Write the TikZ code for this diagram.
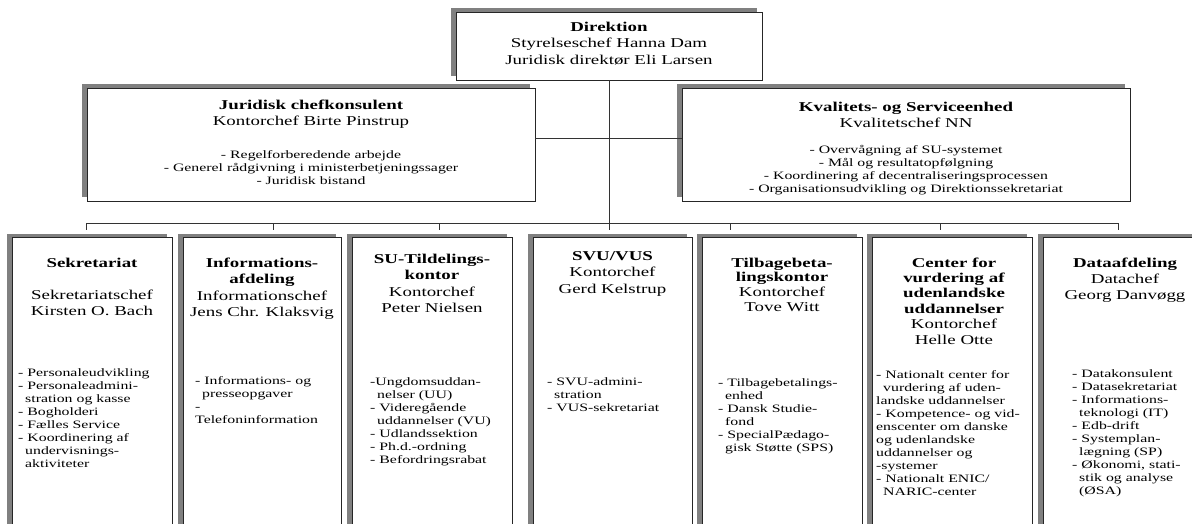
\documentclass[tikz,border=0pt]{standalone}
\usepackage{fontspec}
\setmainfont{Liberation Serif}[FakeStretch=1.4]
\usetikzlibrary{shadows}
\newcommand{\ind}{\hspace*{7pt}}

\begin{document}
\begin{tikzpicture}[x=1pt,y=-1pt,
  box/.style={draw=black!85,line width=0.8pt,fill=white,inner sep=0pt,
    general shadow={fill=black!50,shadow xshift=-5pt,shadow yshift=4pt}},
  big/.style={font=\fontsize{13.5}{16.5}\selectfont,align=center,inner sep=0pt,anchor=north},
  small/.style={font=\fontsize{11.3}{13}\selectfont,align=left,inner sep=0pt,anchor=north west},
  smallc/.style={small,align=center,anchor=north},
  conn/.style={draw=black!80,line width=0.7pt}]
\clip (0,0) rectangle (1192,523);

\node[box,minimum width=306pt,minimum height=68pt](dir) at (609,46) {};
\node[big](dirtxt) at (609,19.5) {\strut\textbf{Direktion}\\Styrelseschef Hanna Dam\\Juridisk direktør Eli Larsen};

\node[box,minimum width=448pt,minimum height=113pt](jur) at (311,144.5) {};
\node[big](jurtxt) at (311,97.5) {\strut\textbf{Juridisk chefkonsulent}\\Kontorchef Birte Pinstrup};
\node[smallc](jurlist) at (311,149.4) {\strut- Regelforberedende arbejde\\- Generel rådgivning i ministerbetjeningssager\\- Juridisk bistand};

\node[box,minimum width=448pt,minimum height=113pt](kval) at (906,144.5) {};
\node[big](kvaltxt) at (906,99.5) {\strut\textbf{Kvalitets- og Serviceenhed}\\Kvalitetschef NN};
\node[smallc](kvallist) at (906,144.4) {\strut- Overvågning af SU-systemet\\- Mål og resultatopfølgning\\- Koordinering af decentraliseringsprocessen\\- Organisationsudvikling og Direktionssekretariat};

%

\node[box,minimum width=160pt,minimum height=303pt](sekr) at (92,389) {};
\node[big](sekrtxt) at (92,255.5) {\strut\textbf{Sekretariat}\\[15.5pt]Sekretariatschef\\Kirsten O. Bach};
\node[small](sekrlist) at (18,367.4) {\strut- Personaleudvikling\\- Personaleadmini-\\\ind stration og kasse\\- Bogholderi\\- Fælles Service\\- Koordinering af\\\ind undervisnings-\\\ind aktiviteter};

\node[box,minimum width=158pt,minimum height=303pt](info) at (262,389) {};
\node[big](infotxt) at (262,255.5) {\strut\textbf{Informations-}\\\textbf{afdeling}\\Informationschef\\Jens Chr. Klaksvig};
\node[small](infolist) at (195,375.4) {\strut- Informations- og\\\ind presseopgaver\\-\\Telefoninformation};

\node[box,minimum width=160pt,minimum height=303pt](sutild) at (432,389) {};
\node[big](sutildtxt) at (432,251.5) {\strut\textbf{SU-Tildelings-}\\\textbf{kontor}\\Kontorchef\\Peter Nielsen};
\node[small](sutildlist) at (370,376.4) {\strut-Ungdomsuddan-\\\ind nelser (UU)\\- Videregående\\\ind uddannelser (VU)\\- Udlandssektion\\- Ph.d.-ordning\\- Befordringsrabat};

\node[box,minimum width=159pt,minimum height=303pt](svu) at (612.5,389) {};
\node[big](svutxt) at (612.5,248.5) {\strut\textbf{SVU/VUS}\\Kontorchef\\Gerd Kelstrup};
\node[small](svulist) at (547,376.4) {\strut- SVU-admini-\\\ind stration\\- VUS-sekretariat};

\node[box,minimum width=160pt,minimum height=303pt](tilbage) at (782,389) {};
\node[big,font=\fontsize{13.5}{14.7}\selectfont](tilbagetxt) at (782,256.7) {\strut\textbf{Tilbagebeta-}\\\textbf{lingskontor}\\Kontorchef\\Tove Witt};
\node[small](tilbagelist) at (718,377.4) {\strut- Tilbagebetalings-\\\ind enhed\\- Dansk Studie-\\\ind fond\\- SpecialPædago-\\\ind gisk Støtte (SPS)};

\node[box,minimum width=160pt,minimum height=303pt](center) at (952,389) {};
\node[big,font=\fontsize{13.5}{15.4}\selectfont](centertxt) at (954,256.2) {\strut\textbf{Center for}\\\textbf{vurdering af}\\\textbf{udenlandske}\\\textbf{uddannelser}\\Kontorchef\\Helle Otte};
\node[small](centerlist) at (876,369.4) {\strut- Nationalt center for\\\ind vurdering af uden-\\landske uddannelser\\- Kompetence- og vid-\\enscenter om danske\\og udenlandske\\uddannelser og\\-systemer\\- Nationalt ENIC/\\\ind NARIC-center};

\node[box,minimum width=160pt,minimum height=303pt](data) at (1123,389) {};
\node[big,font=\fontsize{13.5}{16}\selectfont](datatxt) at (1125,255.8) {\strut\textbf{Dataafdeling}\\Datachef\\Georg Danvøgg};
\node[small](datalist) at (1072,368.4) {\strut- Datakonsulent\\- Datasekretariat\\- Informations-\\\ind teknologi (IT)\\- Edb-drift\\- Systemplan-\\\ind lægning (SP)\\- Økonomi, stati-\\\ind stik og analyse\\\ind (ØSA)};

%

\coordinate (hl) at (609,138);
\coordinate (busl) at (86,223);
\coordinate (busr) at (1118,223);
\path[conn] (jur.east |- hl) -- (kval.west |- hl);
\path[conn] (busl) -- (busr);
\foreach \tx [count=\i] in {86,273,439,609,730,940,1118}
  \coordinate (t\i) at (\tx,230);
\path[conn] (dir.south) -- (t4);
\foreach \i in {1,2,3,5,6,7}
  \path[conn] (t\i |- busl) -- (t\i);
\end{tikzpicture}
\end{document}
